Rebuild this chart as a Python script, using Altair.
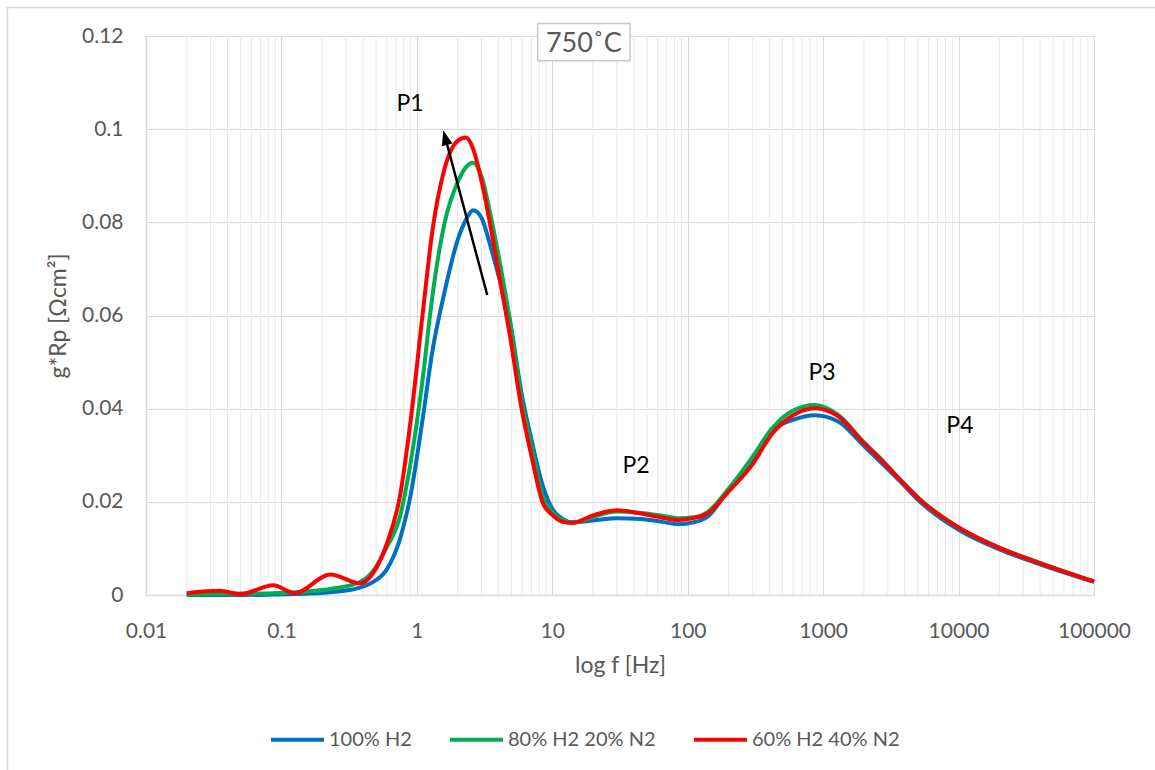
import altair as alt
import pandas as pd

# ---------------- data ----------------
freq = [0.02, 0.035, 0.05, 0.087, 0.125, 0.23, 0.38, 0.47, 0.6, 0.75, 0.9, 1.1, 1.3, 1.6,
        2.0, 2.3, 2.6, 3.0, 3.5, 4.0, 4.8, 6.0, 7.0, 8.5, 10, 12, 14, 20, 30, 45, 65, 85,
        110, 140, 200, 300, 420, 600, 870, 1300, 2000, 2600, 3700, 5200, 10000, 20000,
        40000, 100000]

h2_100 = [0.0, 0.0, 0.0, 0.0001, 0.0002, 0.0006, 0.0016, 0.0027, 0.0055, 0.0120, 0.0215,
          0.0375, 0.0522, 0.0650, 0.0762, 0.0805, 0.0826, 0.0810, 0.0748, 0.0687, 0.0598,
          0.0425, 0.0335, 0.0235, 0.0185, 0.0163, 0.0156, 0.0160, 0.0165, 0.0163, 0.0157,
          0.0152, 0.0156, 0.0168, 0.0225, 0.0288, 0.0352, 0.0376, 0.0386, 0.0372, 0.0320,
          0.0288, 0.0244, 0.0200, 0.0140, 0.0098, 0.0066, 0.0028]

h2_80 = [0.0001, 0.0002, 0.0003, 0.0004, 0.0006, 0.0013, 0.0028, 0.0050, 0.0103, 0.0168,
         0.0285, 0.0460, 0.0640, 0.0798, 0.0886, 0.0918, 0.0928, 0.0899, 0.0816, 0.0730,
         0.0600, 0.0410, 0.0320, 0.0210, 0.0178, 0.0160, 0.0155, 0.0168, 0.0179, 0.0176,
         0.0170, 0.0165, 0.0167, 0.0178, 0.0228, 0.0296, 0.0358, 0.0396, 0.0408, 0.0386,
         0.0328, 0.0296, 0.0248, 0.0205, 0.0145, 0.0102, 0.0069, 0.0029]

h2_60 = [0.0004, 0.0009, 0.0002, 0.0021, 0.0004, 0.0044, 0.0025, 0.0045, 0.0110, 0.0212,
         0.0375, 0.0600, 0.0780, 0.0915, 0.0975, 0.0982, 0.0958, 0.0889, 0.0791, 0.0694,
         0.0567, 0.0392, 0.0300, 0.0198, 0.0172, 0.0157, 0.0155, 0.0171, 0.0182, 0.0175,
         0.0166, 0.0161, 0.0165, 0.0175, 0.0222, 0.0280, 0.0346, 0.0386, 0.0401, 0.0383,
         0.0326, 0.0294, 0.0247, 0.0204, 0.0145, 0.0101, 0.0068, 0.0029]

series_names = ["100% H2", "80% H2 20% N2", "60% H2 40% N2"]
series_colors = ["#0070C0", "#00B050", "#FF0000"]

x_ticks = [0.01, 0.1, 1, 10, 100, 1000, 10000, 100000]
x_tick_labels = ["0.01", "0.1", "1", "10", "100", "1000", "10000", "100000"]
y_ticks = [0, 0.02, 0.04, 0.06, 0.08, 0.1, 0.12]
y_tick_labels = ["0", "0.02", "0.04", "0.06", "0.08", "0.1", "0.12"]
minor_ticks = [m * 10.0 ** e for e in range(-2, 5) for m in range(2, 10)]

peak_labels = ["P1", "P2", "P3", "P4"]
peak_f = [0.89, 41.5, 982, 10230]
peak_v = [0.1055, 0.0277, 0.0477, 0.0363]

temp_label = ["750˚C"]
temp_f = [17.1]
temp_v = [0.1183]
box_f = [7.8]
box_f2 = [37.5]
box_v = [0.1227]
box_v2 = [0.1147]

arrow_tail_f = [3.31]
arrow_tail_v = [0.0644]
arrow_head_f = [1.62]
arrow_head_v = [0.0982]

# ---------------- tables ----------------
rows = []
for name, vals in zip(series_names, [h2_100, h2_80, h2_60]):
    for f, v in zip(freq, vals):
        rows.append({"f": f, "v": v, "series": name})
df = pd.DataFrame(rows)

xscale = alt.Scale(type="log", domain=[0.01, 100000], nice=False)
yscale = alt.Scale(domain=[0, 0.12], nice=False, zero=False)

x_label_arr = "[" + ",".join("'" + s + "'" for s in x_tick_labels) + "]"
y_label_arr = "[" + ",".join("'" + s + "'" for s in y_tick_labels) + "]"

x_axis = alt.Axis(values=x_ticks, labelExpr=x_label_arr + "[round(log(datum.value)/LN10)+2]",
                  grid=True, title="log f [Hz]", labelPadding=25, titleY=59,
                  titleBaseline="top", labelFlush=False)
y_axis = alt.Axis(values=y_ticks, labelExpr=y_label_arr + "[round(datum.value/0.02)]",
                  grid=True, title="g*Rp [Ωcm²]",
                  labelPadding=23, titleX=-88, titleY=279.5, titleBaseline="middle")

X = alt.X("f:Q", scale=xscale, axis=x_axis)
Y = alt.Y("v:Q", scale=yscale, axis=y_axis)

frame = alt.Chart(pd.DataFrame({"a": [1]})).mark_rect(
    fillOpacity=0, stroke="#d9d9d9", strokeWidth=1.5
).encode(x=alt.value(-138.5), x2=alt.value(1014), y=alt.value(-28.5), y2=alt.value(739))

minor = alt.Chart(pd.DataFrame({"f": minor_ticks})).mark_rule(
    color="#e9e9e9", strokeWidth=1
).encode(x=X)

lines = alt.Chart(df).mark_line(interpolate="monotone", strokeWidth=4).encode(
    x=X, y=Y,
    color=alt.Color("series:N", scale=alt.Scale(domain=series_names, range=series_colors),
                    legend=alt.Legend(orient="none", legendX=123, legendY=675,
                                      direction="horizontal", title=None,
                                      symbolType="stroke", symbolSize=2809,
                                      symbolStrokeWidth=4, labelFont="Lato",
                                      labelFontSize=20, labelColor="#595959",
                                      columnPadding=30, labelOffset=3, padding=0)),
)

box = alt.Chart(pd.DataFrame({"f": box_f, "f2": box_f2, "v": box_v, "v2": box_v2})).mark_rect(
    fill="white", stroke="#c8c8c8", strokeWidth=1.5
).encode(x=X, x2="f2:Q", y=Y, y2="v2:Q")

box_text = alt.Chart(pd.DataFrame({"t": temp_label, "f": temp_f, "v": temp_v})).mark_text(
    font="Lato", fontSize=27, color="#595959", baseline="middle", align="center"
).encode(x=X, y=Y, text="t:N")

peaks = alt.Chart(pd.DataFrame({"t": peak_labels, "f": peak_f, "v": peak_v})).mark_text(
    font="Lato", fontSize=23, color="black", baseline="middle", align="center"
).encode(x=X, y=Y, text="t:N")

arrow_df = pd.DataFrame({"f": arrow_tail_f, "v": arrow_tail_v,
                         "f2": arrow_head_f, "v2": arrow_head_v})
arrow = alt.Chart(arrow_df).mark_rule(color="black", strokeWidth=2.5).encode(
    x=X, y=Y, x2="f2:Q", y2="v2:Q")

head = alt.Chart(pd.DataFrame({"f": arrow_head_f, "v": arrow_head_v})).mark_point(
    shape="M0,-1L0.73,1L-0.73,1Z", filled=True, size=225, angle=345, color="black", opacity=1
).encode(x=X, y=Y)

chart = alt.layer(frame, minor, lines, box, box_text, peaks, arrow, head).properties(
    width=948, height=559, autosize="none",
    padding={"left": 146, "top": 36, "right": 61, "bottom": 175},
    background="white",
).configure_view(stroke=None).configure_axis(
    labelFont="Lato", labelFontSize=21, labelColor="#595959",
    titleFont="Lato", titleFontSize=23, titleColor="#595959", titleFontWeight="normal",
    ticks=False, domainColor="#d9d9d9", gridColor="#d9d9d9", domainWidth=1.5,
)

chart.save("out.html", embed_options={"renderer": "svg", "actions": False})
